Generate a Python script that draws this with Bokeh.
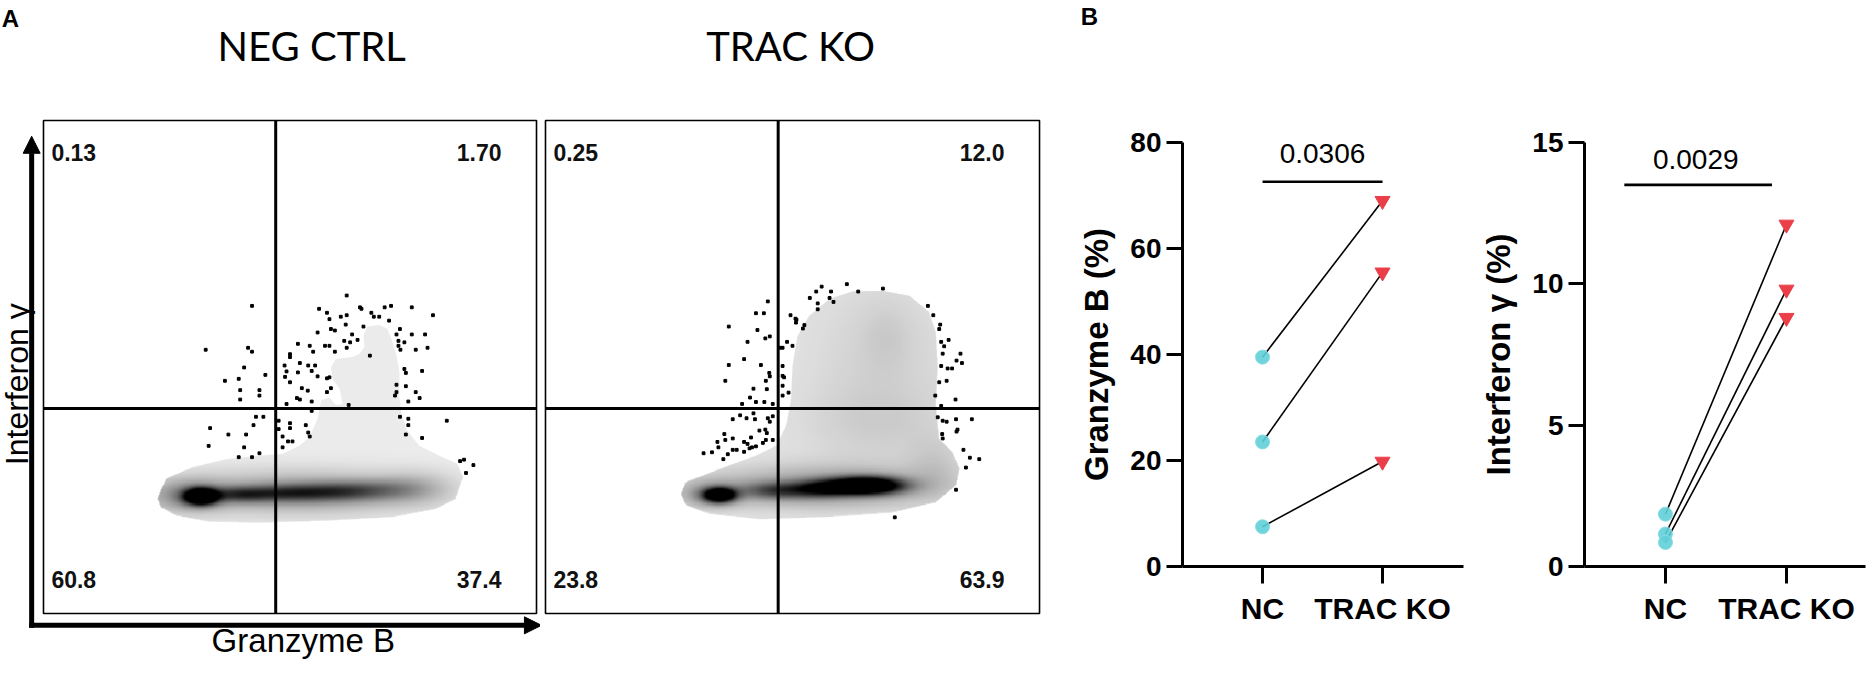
import numpy as np
from bokeh.plotting import figure
from bokeh.layouts import row, column
from bokeh.models import Range1d, FixedTicker, Label, Arrow, NormalHead
from bokeh.embed import file_html
from bokeh.resources import INLINE

# ---------------- Panel A : flow cytometry (arbitrary channel units 0..1000) ----------------
quad_neg = ["0.13", "1.70", "60.8", "37.4"]      # UL, UR, LL, LR (%)
quad_trac = ["0.25", "12.0", "23.8", "63.9"]
gate_x = 471
gate_y = 416

# outer (lowest) density contour
neg_contour_x = [231, 248, 302, 370, 438, 485, 519, 539, 556, 563, 580, 593, 607, 601, 586, 583, 593, 624, 640,
                 651, 649, 657, 681, 698, 707, 716, 722, 722, 727, 738, 762, 803, 840, 851, 836, 796, 708, 573,
                 438, 336, 269, 238]
neg_contour_y = [232, 273, 296, 313, 320, 324, 340, 357, 395, 432, 438, 423, 425, 455, 476, 499, 516, 520, 526,
                 540, 564, 582, 585, 577, 553, 523, 489, 435, 401, 371, 340, 320, 303, 276, 232, 212, 195, 188,
                 184, 186, 198, 215]
trac_contour_x = [274, 284, 318, 372, 426, 467, 487, 497, 500, 510, 534, 575, 622, 683, 737, 777, 790, 794, 790,
                  797, 824, 838, 831, 790, 703, 568, 433, 332, 284]
trac_contour_y = [242, 266, 279, 300, 320, 340, 381, 435, 502, 563, 604, 638, 653, 654, 644, 611, 570, 502, 421,
                  354, 327, 293, 259, 225, 205, 195, 191, 202, 219]

# inner density components: centre x, centre y, spread x, spread y, weight
neg_cx = [319, 400, 500, 600, 690, 520, 290, 760]
neg_cy = [236, 240, 243, 246, 250, 244, 238, 255]
neg_sx = [22, 45, 55, 55, 55, 170, 55, 50]
neg_sy = [11, 11, 12, 13, 15, 30, 24, 24]
neg_w = [1.6, 0.5, 0.45, 0.4, 0.25, 0.36, 0.32, 0.14]

trac_cx = [352, 650, 470, 560, 560, 680, 690, 670, 790, 330]
trac_cy = [239, 258, 248, 252, 255, 520, 560, 380, 300, 240]
trac_sx = [22, 50, 50, 40, 170, 110, 35, 120, 40, 45]
trac_sy = [10, 12, 12, 12, 30, 130, 45, 60, 40, 20]
trac_w = [1.4, 1.5, 0.5, 0.6, 0.34, 0.085, 0.05, 0.07, 0.1, 0.25]

neg_dots_x = [423, 615, 559, 575, 603, 615, 642, 645, 665, 670, 681, 692, 705, 747, 790, 329, 415, 423, 580, 613,
              649, 701, 583, 591, 556, 610, 622, 626, 637, 615, 516, 540, 571, 580, 547, 591, 500, 500, 662, 716,
              723, 747, 774, 720, 732, 720, 724, 755, 779, 407, 450, 368, 396, 399, 399, 438, 438, 489, 493, 516,
              520, 537, 551, 544, 556, 575, 580, 490, 500, 524, 536, 575, 583, 514, 520, 544, 493, 732, 735, 768,
              716, 735, 713, 716, 740, 755, 763, 544, 619, 431, 446, 477, 477, 500, 500, 532, 537, 540, 485, 496,
              505, 485, 426, 338, 375, 411, 407, 335, 438, 423, 396, 723, 740, 740, 735, 768, 818, 845, 853, 872,
              857]
neg_dots_y = [624, 645, 618, 610, 602, 605, 621, 618, 610, 602, 602, 621, 624, 621, 605, 535, 539, 531, 597, 586,
              582, 594, 577, 574, 570, 553, 550, 566, 555, 539, 547, 543, 543, 543, 531, 531, 526, 520, 523, 566,
              577, 566, 566, 553, 550, 543, 535, 535, 539, 499, 484, 472, 476, 453, 434, 453, 442, 503, 491, 489,
              508, 503, 503, 492, 481, 477, 479, 480, 469, 457, 452, 449, 457, 437, 434, 430, 425, 496, 488, 492,
              464, 461, 442, 449, 430, 449, 437, 411, 423, 399, 399, 391, 374, 386, 376, 382, 367, 359, 359, 349,
              349, 337, 382, 376, 363, 363, 337, 340, 325, 317, 317, 399, 395, 382, 363, 356, 391, 309, 312, 301,
              285]

trac_dots_x = [559, 610, 548, 578, 633, 683, 535, 575, 583, 551, 551, 450, 426, 442, 496, 506, 508, 507, 524, 521,
               371, 429, 445, 454, 409, 489, 475, 480, 500, 402, 371, 436, 480, 453, 454, 480, 483, 364, 446, 492,
               421, 448, 480, 480, 414, 426, 443, 460, 398, 774, 785, 799, 797, 816, 801, 807, 804, 840, 832, 843,
               801, 814, 823, 797, 812, 789, 830, 801, 394, 421, 379, 407, 424, 450, 460, 454, 433, 445, 448, 362,
               348, 364, 379, 402, 416, 409, 446, 460, 440, 350, 379, 387, 402, 413, 418, 426, 320, 337, 369, 360,
               794, 804, 812, 831, 863, 803, 804, 834, 832, 846, 859, 878, 851, 831, 707]
trac_dots_y = [663, 668, 653, 653, 653, 659, 640, 640, 632, 629, 617, 633, 609, 609, 605, 598, 596, 590, 585, 578,
               582, 575, 558, 562, 551, 551, 539, 539, 543, 516, 504, 504, 502, 488, 481, 482, 479, 472, 472, 448,
               456, 455, 442, 462, 438, 429, 429, 425, 425, 624, 605, 586, 577, 555, 551, 542, 527, 527, 513, 508,
               502, 497, 497, 469, 472, 442, 434, 421, 402, 406, 394, 396, 394, 396, 400, 389, 371, 373, 366, 364,
               348, 352, 355, 348, 357, 344, 352, 352, 346, 337, 332, 332, 328, 335, 337, 339, 325, 327, 323, 313,
               398, 391, 389, 394, 394, 364, 355, 373, 369, 332, 316, 313, 296, 251, 195]

# ---------------- Panel B : paired percentages ----------------
groups = ["NC", "TRAC KO"]
group_pos = [1, 2]
gzmb_nc = [39.5, 23.5, 7.5]
gzmb_ko = [69.0, 55.5, 19.8]
ifng_nc = [1.85, 1.15, 0.85]
ifng_ko = [12.1, 9.8, 8.8]
gzmb_ticks = [0, 20, 40, 60, 80]
ifng_ticks = [0, 5, 10, 15]
gzmb_p = "0.0306"
ifng_p = "0.0029"

ARIAL = "Liberation Sans"
NARROW = "'Liberation Sans Narrow', 'Liberation Sans', sans-serif"
H = 661


def inside_polygon(X, Y, px, py):
    inside = np.zeros(X.shape, dtype=bool)
    n = len(px)
    for i in range(n):
        x1, y1, x2, y2 = px[i], py[i], px[(i + 1) % n], py[(i + 1) % n]
        if y1 == y2:
            continue
        cond = (Y >= min(y1, y2)) & (Y < max(y1, y2))
        xc = x1 + (Y - y1) * (x2 - x1) / (y2 - y1)
        inside ^= cond & (X < xc)
    return inside


def density_image(cx, cy, sx, sy, w, cont_x, cont_y, n=450):
    xs = np.linspace(0, 1000, n)
    X, Y = np.meshgrid(xs, xs)
    D = np.zeros_like(X)
    for a, b, c, d, e in zip(cx, cy, sx, sy, w):
        D += e * np.exp(-((X - a) ** 2 / (2 * c * c) + (Y - b) ** 2 / (2 * d * d)))
    A = np.clip(D, 0, 1)
    A[~inside_polygon(X, Y, cont_x, cont_y)] = 0
    img = np.zeros((n, n), dtype=np.uint32)
    v = img.view(dtype=np.uint8).reshape((n, n, 4))
    v[..., 3] = (A * 255).astype(np.uint8)
    return img


def blank_fig(w, h, xr, yr):
    p = figure(frame_width=w, frame_height=h, x_range=Range1d(*xr), y_range=Range1d(*yr),
               output_backend="svg", toolbar_location=None, min_border=0)
    p.axis.visible = False
    p.grid.visible = False
    p.outline_line_color = None
    return p


def flow_fig(w, xr, title, title_x, quad, cont_x, cont_y, base_col, comps, dx, dy, first):
    p = blank_fig(w, H, xr, (-97.4, 1243.4))
    p.patch(cont_x, cont_y, fill_color=base_col, line_color=None)
    p.image_rgba(image=[density_image(*comps, cont_x, cont_y)], x=0, y=0, dw=1000, dh=1000)
    p.scatter(dx, dy, marker="square", size=2.8, color="black")
    p.segment(x0=[gate_x, 0], y0=[0, gate_y], x1=[gate_x, 1000], y1=[1000, gate_y], line_color="black",
              line_width=3)
    p.quad(left=[0], right=[1000], bottom=[0], top=[1000], fill_color=None, line_color="black", line_width=1.6)
    p.add_layout(Label(x=title_x, y=1152, text=title, text_align="center", text_baseline="middle",
                       text_font="Lato", text_font_size="40px", text_color="black"))
    qpos = [(16, 935, "left"), (929, 935, "right"), (16, 69, "left"), (929, 69, "right")]
    for t, (x, y, al) in zip(quad, qpos):
        p.add_layout(Label(x=x, y=y, text=t, text_align=al, text_baseline="middle", text_font=NARROW,
                           text_font_style="bold", text_font_size="23px", text_color="#111111"))
    if first:
        head = dict(size=17, fill_color="black", line_color="black")
        p.add_layout(Arrow(end=NormalHead(**head), x_start=-24, y_start=-29, x_end=-24, y_end=968,
                           line_width=5, line_color="black"))
        p.add_layout(Arrow(end=NormalHead(**head), x_start=-29, y_start=-24, x_end=1010, y_end=-24,
                           line_width=5, line_color="black"))
        p.add_layout(Label(x=-53, y=465, text="Interferon γ", angle=90, angle_units="deg", text_align="center",
                           text_baseline="middle", text_font=ARIAL, text_font_size="32px", text_color="black"))
        p.add_layout(Label(x=527, y=-55, text="Granzyme B", text_align="center", text_baseline="middle",
                           text_font=ARIAL, text_font_size="33px", text_color="black"))
        p.add_layout(Label(x=-67, y=1207, text="A", text_align="center", text_baseline="middle",
                           text_font=ARIAL, text_font_style="bold", text_font_size="24px", text_color="black"))
    return p


def pair_fig(x0, x1, ymax, ticks, nc, ko, ylabel, ptxt, bar, ptxt_pos, left, right, top):
    p = figure(frame_width=281, frame_height=424, x_range=Range1d(x0, x1), y_range=Range1d(0, ymax),
               output_backend="svg", toolbar_location=None,
               min_border_left=left, min_border_right=right, min_border_top=top, min_border_bottom=95)
    p.grid.visible = False
    p.outline_line_color = None
    for ax in (p.xaxis[0], p.yaxis[0]):
        ax.axis_line_width = 3
        ax.major_tick_line_width = 3
        ax.minor_tick_line_color = None
        ax.major_tick_in = 0
        ax.major_label_text_font = ARIAL
        ax.major_label_text_font_style = "bold"
        ax.major_label_text_color = "black"
    p.yaxis.ticker = FixedTicker(ticks=ticks)
    p.yaxis.major_tick_out = 16
    p.yaxis.major_label_standoff = 5
    p.yaxis.major_label_text_font_size = "28px"
    p.yaxis.axis_label = ylabel
    p.yaxis.axis_label_text_font = ARIAL
    p.yaxis.axis_label_text_font_style = "bold"
    p.yaxis.axis_label_text_font_size = "33px"
    p.yaxis.axis_label_text_color = "black"
    p.yaxis.axis_label_standoff = 12
    p.xaxis.ticker = FixedTicker(ticks=group_pos)
    p.xaxis.major_label_overrides = {k: g for k, g in zip(group_pos, groups)}
    p.xaxis.major_tick_out = 17
    p.xaxis.major_label_standoff = 8
    p.xaxis.major_label_text_font_size = "30px"
    n = len(nc)
    p.segment(x0=[group_pos[0]] * n, y0=nc, x1=[group_pos[1]] * n, y1=ko, line_color="black", line_width=1.6)
    p.scatter([group_pos[0]] * n, nc, marker="circle", size=14, fill_color="#5fcfd8", line_color="#8adbe2",
              line_width=1, fill_alpha=0.9)
    p.scatter([group_pos[1]] * n, ko, marker="inverted_triangle", size=15, fill_color="#ea3f49",
              line_color="#ea3f49")
    p.segment(x0=[bar[0]], y0=[bar[2]], x1=[bar[1]], y1=[bar[2]], line_color="black", line_width=2.6)
    p.add_layout(Label(x=ptxt_pos[0], y=ptxt_pos[1], text=ptxt, text_align="center", text_baseline="middle",
                       text_font=ARIAL, text_font_size="28px", text_color="black"))
    return p


HEAD = 34
f1 = flow_fig(540, (-87.2, 1008.1), "NEG CTRL", 544, quad_neg, neg_contour_x, neg_contour_y, "#ebebeb",
              (neg_cx, neg_cy, neg_sx, neg_sy, neg_w), neg_dots_x, neg_dots_y, True)
f2 = flow_fig(509, (-10.1, 1020.2), "TRAC KO", 496, quad_trac, trac_contour_x, trac_contour_y, "#e6e6e6",
              (trac_cx, trac_cy, trac_sx, trac_sy, trac_w), trac_dots_x, trac_dots_y, False)
f3 = pair_fig(0.333, 2.675, 80, gzmb_ticks, gzmb_nc, gzmb_ko, "Granzyme B (%)", gzmb_p,
              (1, 2, 72.6), (1.5, 77.9), 133, 14, 142 - HEAD)
f4 = pair_fig(0.331, 2.653, 15, ifng_ticks, ifng_nc, ifng_ko, "Interferon γ (%)", ifng_p,
              (0.66, 1.88, 13.5), (1.25, 14.4), 100, 2, 142 - HEAD)

hdr = blank_fig(806, HEAD, (0, 806), (0, HEAD))
hdr.add_layout(Label(x=40, y=HEAD - 16, text="B", text_align="center", text_baseline="middle",
                     text_font=ARIAL, text_font_style="bold", text_font_size="24px", text_color="black"))

layout = row(f1, f2, column(hdr, row(f3, f4)))
open("out.html", "w").write(file_html(layout, INLINE))
